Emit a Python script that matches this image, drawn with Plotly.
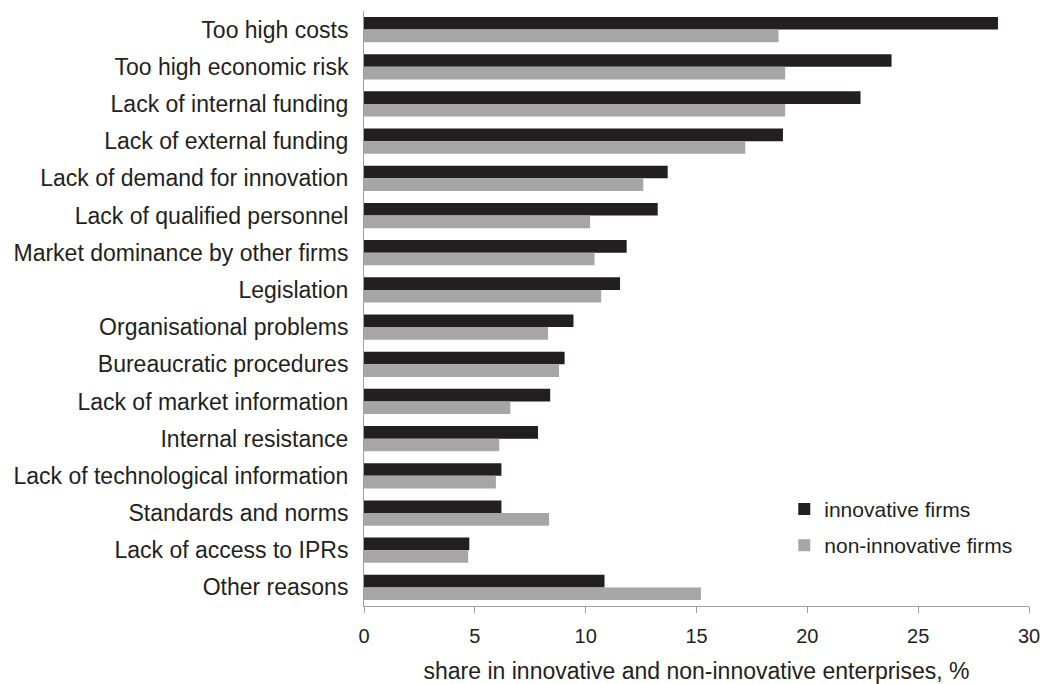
import plotly.graph_objects as go

categories = [
    "Too high costs", "Too high economic risk", "Lack of internal funding",
    "Lack of external funding", "Lack of demand for innovation",
    "Lack of qualified personnel", "Market dominance by other firms",
    "Legislation", "Organisational problems", "Bureaucratic procedures",
    "Lack of market information", "Internal resistance",
    "Lack of technological information", "Standards and norms",
    "Lack of access to IPRs", "Other reasons",
]
innovative = [28.6, 23.8, 22.4, 18.9, 13.7, 13.25, 11.85, 11.55, 9.45, 9.05,
              8.4, 7.85, 6.2, 6.2, 4.75, 10.85]
non_innovative = [18.7, 19.0, 19.0, 17.2, 12.6, 10.2, 10.4, 10.7, 8.3, 8.8,
                  6.6, 6.1, 5.95, 8.35, 4.7, 15.2]
x_ticks = [0, 5, 10, 15, 20, 25, 30]

FONT = "Arial, Liberation Sans, sans-serif"
TXT = "#231F20"

fig = go.Figure()
fig.add_trace(go.Bar(y=categories, x=innovative, orientation="h",
                     name="innovative firms", marker_color="#231F20",
                     marker_line_width=0, legendgroup="a"))
fig.add_trace(go.Bar(y=categories, x=non_innovative, orientation="h",
                     name="non-innovative firms", marker_color="#A6A6A6",
                     marker_line_width=0, legendgroup="b"))

fig.update_layout(
    width=1045, height=684, autosize=False,
    margin=dict(l=364, r=16, t=11, b=78),
    paper_bgcolor="white", plot_bgcolor="white",
    barmode="group", bargap=0.32, bargroupgap=0,
    font=dict(family=FONT, size=21, color=TXT),
    legend=dict(x=0.632, y=0.197, xanchor="left", yanchor="top",
                traceorder="grouped", tracegroupgap=6,
                font=dict(size=21, color=TXT), bgcolor="rgba(0,0,0,0)"),
    xaxis=dict(range=[0, 30], tickvals=x_ticks, showgrid=False,
               showline=True, linecolor="#A0A0A0", linewidth=1,
               ticks="outside", ticklen=6, tickcolor="#A0A0A0",
               ticklabelstandoff=6, automargin=False, ticklabeloverflow="allow",
               tickfont=dict(size=20, color=TXT), zeroline=False,
               title=dict(text="share in innovative and non-innovative enterprises, %",
                          font=dict(size=23, color=TXT), standoff=16)),
    yaxis=dict(autorange="reversed", showgrid=False, showline=True,
               linecolor="#A0A0A0", linewidth=1, ticks="", ticklabelstandoff=10,
               automargin=False, tickfont=dict(size=23, color=TXT)),
)

fig.write_html(
    "out.html",
    config={"responsive": False, "displayModeBar": False},
    post_script="document.body.style.margin='0';document.body.style.overflow='hidden';",
)
